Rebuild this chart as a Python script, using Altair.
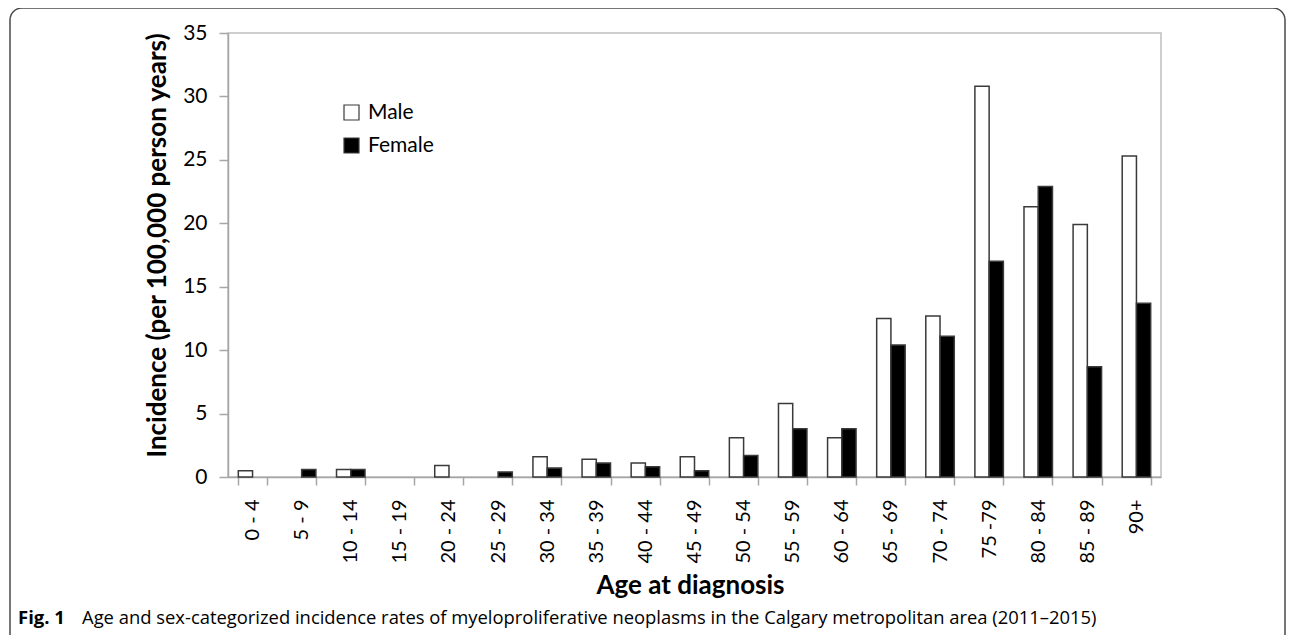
import altair as alt
import pandas as pd

ages = ["0 - 4", "5 - 9", "10 - 14", "15 - 19", "20 - 24", "25 - 29", "30 - 34",
        "35 - 39", "40 - 44", "45 - 49", "50 - 54", "55 - 59", "60 - 64", "65 - 69",
        "70 - 74", "75 -79", "80 - 84", "85 - 89", "90+"]
male = [0.5, 0, 0.6, 0, 0.9, 0, 1.6, 1.4, 1.1, 1.6, 3.1, 5.8, 3.1, 12.5, 12.7, 30.8, 21.3, 19.9, 25.3]
female = [0, 0.6, 0.6, 0, 0, 0.4, 0.7, 1.1, 0.8, 0.5, 1.7, 3.8, 3.8, 10.4, 11.1, 17.0, 22.9, 8.7, 13.7]
sexes = ["Male", "Female"]

y_title = "Incidence (per 100,000 person years)"
x_title = "Age at diagnosis"
cap_bold = "Fig. 1"
cap_text = "Age and sex-categorized incidence rates of myeloproliferative neoplasms in the Calgary metropolitan area (2011\u20132015)"

rows = []
for a, m, f in zip(ages, male, female):
    if m > 0:
        rows.append({"age": a, "sex": "Male", "value": m})
    if f > 0:
        rows.append({"age": a, "sex": "Female", "value": f})
df = pd.DataFrame(rows)

W, H = 933, 444
AXC = "#a6a6a6"

bars = alt.Chart(df).mark_bar(stroke="#3a3a3a", strokeWidth=1.5).encode(
    x=alt.X("age:N", sort=ages, title=x_title,
            scale=alt.Scale(domain=ages, paddingInner=0.42, paddingOuter=0.21),
            axis=alt.Axis(labelAngle=-90, labelFont="Lato", labelFontSize=20,
                          labelColor="black", labelPadding=14, tickBand="extent",
                          tickSize=8, tickColor=AXC, tickWidth=1.5, domainColor=AXC,
                          domainWidth=1.5, titleFont="Lato", titleFontSize=26,
                          titleFontWeight="bold", titleColor="black",
                          titleX=462, titleY=108, titleBaseline="middle")),
    xOffset=alt.XOffset("sex:N", sort=sexes, scale=alt.Scale(domain=sexes)),
    y=alt.Y("value:Q", title=y_title,
            scale=alt.Scale(domain=[0, 35], nice=False),
            axis=alt.Axis(values=[0, 5, 10, 15, 20, 25, 30, 35], grid=False,
                          labelFont="Lato", labelFontSize=21, labelColor="black",
                          labelPadding=12, tickSize=9, tickColor=AXC, tickWidth=1.5,
                          domainColor=AXC, domainWidth=1.5, titleFont="Lato",
                          titleFontSize=26, titleFontWeight="bold", titleColor="black",
                          titleX=-71, titleY=212, titleBaseline="middle",
                          titleAngle=-90)),
    fill=alt.Fill("sex:N", scale=alt.Scale(domain=sexes, range=["white", "black"]),
                  legend=alt.Legend(title=None, orient="none", legendX=113, legendY=69,
                                    symbolType="square", symbolSize=225,
                                    symbolStrokeColor="#3a3a3a", symbolStrokeWidth=1.2,
                                    labelFont="Lato", labelFontSize=21,
                                    labelColor="black", rowPadding=11, labelOffset=6)),
)

cap_df = pd.DataFrame({"b": [cap_bold], "t": [cap_text]})

cap1 = alt.Chart(cap_df).mark_text(align="left", baseline="middle", font="Open Sans",
                                   fontSize=18.5, fontWeight="bold", color="black").encode(
    x=alt.value(-210), y=alt.value(585), text="b:N")
cap2 = alt.Chart(cap_df).mark_text(align="left", baseline="middle", font="Open Sans",
                                   fontSize=18.4, color="black").encode(
    x=alt.value(-146), y=alt.value(585), text="t:N")

frame = alt.Chart(cap_df).mark_rect(fillOpacity=0, stroke="#4a4a4a", strokeWidth=1.5,
                                    cornerRadius=12).encode(
    x=alt.value(-218), x2=alt.value(1057), y=alt.value(-25), y2=alt.value(720))

chart = alt.layer(frame, bars, cap1, cap2).properties(
    width=W, height=H,
    autosize=alt.AutoSizeParams(type="none"),
    padding={"left": 220, "top": 25, "right": 126, "bottom": 158},
).configure_view(stroke="#bfbfbf", strokeWidth=1.5)

chart.save("out.html", embed_options={"renderer": "svg", "actions": False})
